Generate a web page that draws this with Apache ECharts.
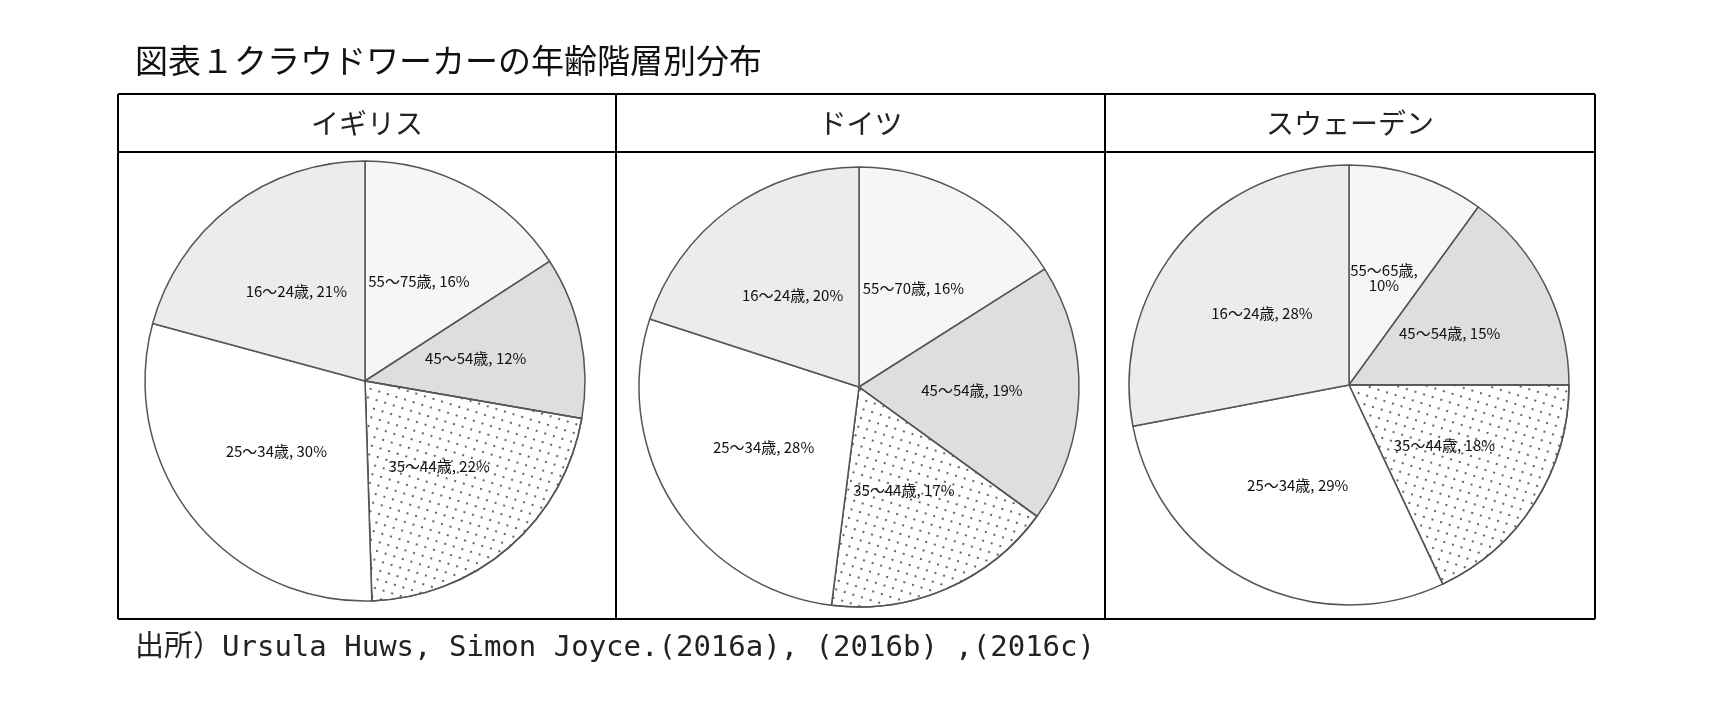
<!DOCTYPE html>
<html><head><meta charset="utf-8">
<script src="https://cdn.jsdelivr.net/npm/echarts@6/dist/echarts.min.js"></script>
<style>html,body{margin:0;background:#fff}#c{width:1724px;height:720px}</style>
</head><body><div id="c"></div>
<script>
const countries = ['イギリス','ドイツ','スウェーデン'];
const categoriesUK = ['55～75歳','45～54歳','35～44歳','25～34歳','16～24歳'];
const categoriesDE = ['55～70歳','45～54歳','35～44歳','25～34歳','16～24歳'];
const categoriesSE = ['55～65歳','45～54歳','35～44歳','25～34歳','16～24歳'];
const valuesUK = [16,12,22,30,21];
const valuesDE = [16,19,17,28,20];
const valuesSE = [10,15,18,29,28];

const fills = ['#f6f6f6','#dedede','#ffffff','#ffffff','#ececec'];
function mk(cats, vals, center, wrapFirst){
  return {
    type:'pie', center:center, radius:220, startAngle:90, clockwise:true,
    silent:true, animation:false,
    itemStyle:{borderColor:'#555',borderWidth:1.5},
    label:{show:true,position:'inside',color:'#111',fontSize:15,fontFamily:'Noto Sans CJK JP',
      formatter:p=>p.name+', '+p.value+'%'},
    labelLine:{show:false},
    data: cats.map((n,i)=>{
      const d={name:n,value:vals[i],itemStyle:{color:fills[i]}};
      if(i===2) d.itemStyle.decal={symbol:'rect',symbolSize:1,color:'#666',dashArrayX:[[1.5,7]],dashArrayY:[1.5,7],rotation:0.3};
      if(i===0 && wrapFirst) d.label={formatter:p=>p.name+',\n'+p.value+'%'};
      return d;
    })
  };
}
const chart = echarts.init(document.getElementById('c'));
const L=118,R=1595,T=94,B=619,H=152,D1=616,D2=1105;
const line=(x1,y1,x2,y2)=>({type:'line',shape:{x1,y1,x2,y2},style:{stroke:'#000',lineWidth:2},z:10});
const hdr=(x,t)=>({type:'text',x:x,y:(T+H)/2,style:{text:t,font:'28px "Noto Sans CJK JP"',fill:'#222',align:'center',verticalAlign:'middle'}});
chart.setOption({
  backgroundColor:'#fff',
  series:[mk(categoriesUK,valuesUK,[365,381]), mk(categoriesDE,valuesDE,[859,387]), mk(categoriesSE,valuesSE,[1349,385],true)],
  graphic:[
    {type:'text',left:135,top:44,style:{text:'図表１クラウドワーカーの年齢階層別分布',font:'33px "Noto Sans CJK JP"',fill:'#111'}},
    line(L,T,R,T),line(L,H,R,H),line(L,B,R,B),line(L,T,L,B),line(R,T,R,B),line(D1,T,D1,B),line(D2,T,D2,B),
    hdr((L+D1)/2,countries[0]),hdr((D1+D2)/2,countries[1]),hdr((D2+R)/2,countries[2]),
    {type:'text',left:135,top:634,style:{text:'出所）Ursula Huws, Simon Joyce.(2016a), (2016b) ,(2016c)',font:'29px "DejaVu Sans Mono","Noto Sans CJK JP"',fill:'#222'}}
  ]
});
</script></body></html>
